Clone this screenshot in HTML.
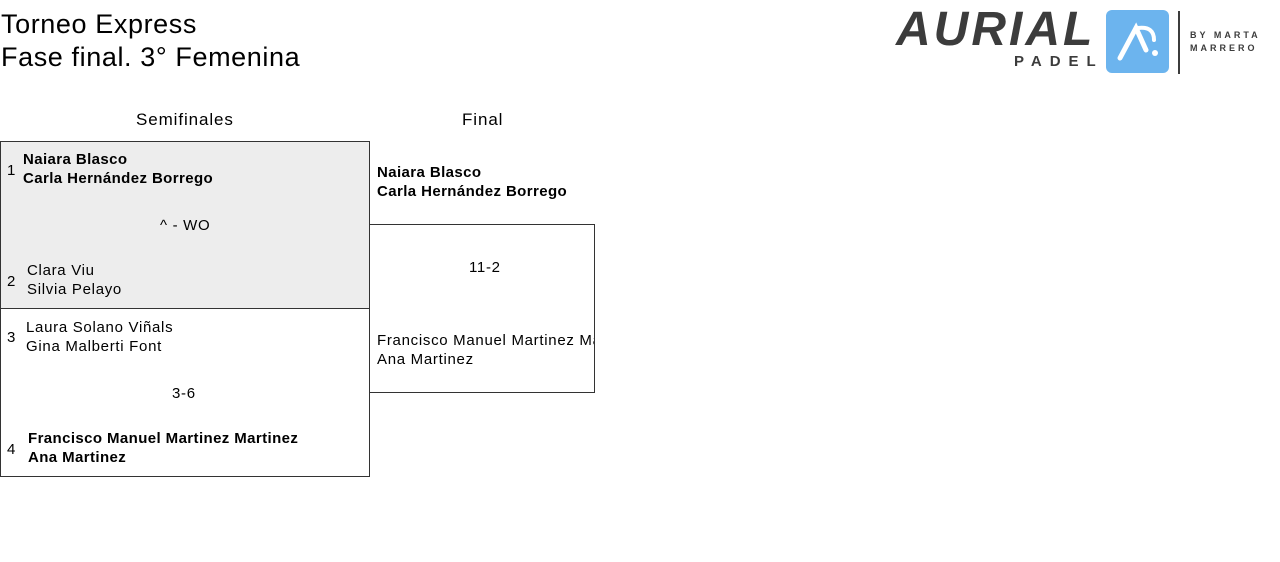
<!DOCTYPE html>
<html><head><meta charset="utf-8"><style>
body{margin:0;width:1280px;height:562px;background:#fff;font-family:"Liberation Sans",sans-serif;color:#000;position:relative;overflow:hidden}
.a{position:absolute;white-space:nowrap}
.t{font-size:27px;line-height:33px;letter-spacing:0.6px}
.h{font-size:17px;letter-spacing:0.9px}
.n{font-size:15px;line-height:19px;letter-spacing:0.7px}
.b{font-weight:bold;letter-spacing:0.4px}
.box{position:absolute;border:1px solid #333;box-sizing:border-box}
</style></head><body>
<div class="a t" style="left:1px;top:8px">Torneo Express</div>
<div class="a t" style="left:1px;top:41px">Fase final. 3° Femenina</div>

<div class="a" style="left:896px;top:4px;font-size:48px;font-weight:bold;font-style:italic;color:#3c3c3c;letter-spacing:3px;line-height:52px">AURIAL</div>
<div class="a" style="left:1014px;top:53px;font-size:15px;font-weight:bold;color:#3c3c3c;letter-spacing:8px">PADEL</div>
<div class="a" style="left:1106px;top:10px;width:63px;height:63px;background:#6cb4ee;border-radius:6px"></div>
<svg class="a" style="left:1106px;top:10px" width="63" height="63"><path d="M14 48 L30 18 L40 40" stroke="#fff" stroke-width="5" fill="none" stroke-linecap="round"/><path d="M32 18 Q48 16 48 30" stroke="#fff" stroke-width="4" fill="none" stroke-linecap="round"/><circle cx="49" cy="43" r="3" fill="#fff"/></svg>
<div class="a" style="left:1178px;top:11px;width:2px;height:63px;background:#3c3c3c"></div>
<div class="a" style="left:1190px;top:30px;font-size:9px;color:#3c3c3c;letter-spacing:3px;font-weight:bold">BY MARTA</div>
<div class="a" style="left:1190px;top:43px;font-size:9px;color:#3c3c3c;letter-spacing:3px;font-weight:bold">MARRERO</div>

<div class="a h" style="left:136px;top:110px">Semifinales</div>
<div class="a h" style="left:462px;top:110px">Final</div>

<div class="box" style="left:0;top:141px;width:370px;height:168px;background:#ededed"></div>
<div class="box" style="left:0;top:308px;width:370px;height:169px"></div>
<div class="box" style="left:369px;top:224px;width:226px;height:169px"></div>

<div class="a n" style="left:7px;top:161px">1</div>
<div class="a n b" style="left:23px;top:150px">Naiara Blasco<br>Carla Hernández Borrego</div>
<div class="a n" style="left:160px;top:216px">^ - WO</div>
<div class="a n" style="left:7px;top:272px">2</div>
<div class="a n" style="left:27px;top:261px">Clara Viu<br>Silvia Pelayo</div>

<div class="a n" style="left:7px;top:328px">3</div>
<div class="a n" style="left:26px;top:318px">Laura Solano Viñals<br>Gina Malberti Font</div>
<div class="a n" style="left:172px;top:384px">3-6</div>
<div class="a n" style="left:7px;top:440px">4</div>
<div class="a n b" style="left:28px;top:429px">Francisco Manuel Martinez Martinez<br>Ana Martinez</div>

<div class="a n b" style="left:377px;top:163px">Naiara Blasco<br>Carla Hernández Borrego</div>
<div class="a n" style="left:469px;top:258px">11-2</div>
<div class="a" style="left:377px;top:331px;width:217px;overflow:hidden"><div class="n">Francisco Manuel Martinez Martinez<br>Ana Martinez</div></div>
</body></html>
